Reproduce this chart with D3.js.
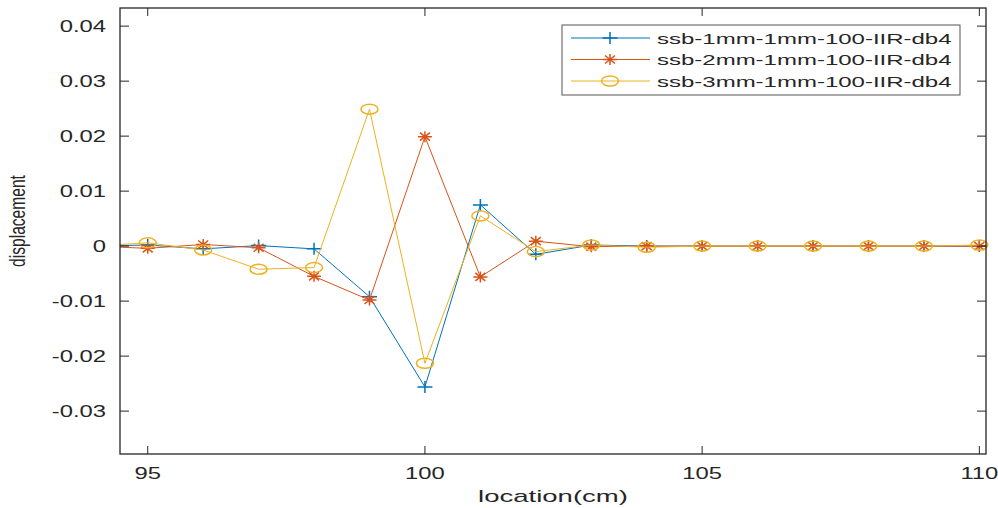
<!DOCTYPE html>
<html>
<head>
<meta charset="utf-8">
<script src="https://cdn.jsdelivr.net/npm/d3@7"></script>
<style>
  body { margin: 0; background: #fff; }
  text { font-family: "Liberation Sans", Arial, sans-serif; fill: #262626; }
</style>
</head>
<body>
<svg id="chart" width="998" height="508"></svg>
<script>
// data
var locations = [94, 95, 96, 97, 98, 99, 100, 101, 102, 103, 104, 105, 106, 107, 108, 109, 110];
var ssb1 = [0, 0.0002, -0.0005, 0.0001, -0.0005, -0.0092, -0.0256, 0.0075, -0.0015, 0.0002, 0, 0, 0, 0, 0, 0, 0];
var ssb2 = [0, -0.0004, 0.0003, -0.0003, -0.0055, -0.0098, 0.0199, -0.0056, 0.0009, -0.0001, 0, 0, 0, 0, 0, 0, 0];
var ssb3 = [0, 0.0006, -0.0007, -0.0042, -0.0039, 0.0249, -0.0213, 0.0055, -0.0010, 0.0002, -0.0002, 0, 0, 0, 0, 0, 0.0002];
var seriesNames = ["ssb-1mm-1mm-100-IIR-db4", "ssb-2mm-1mm-100-IIR-db4", "ssb-3mm-1mm-100-IIR-db4"];
var xTicks = [95, 100, 105, 110];
var yTicks = [-0.03, -0.02, -0.01, 0, 0.01, 0.02, 0.03, 0.04];
var yTickLabels = ["-0.03", "-0.02", "-0.01", "0", "0.01", "0.02", "0.03", "0.04"];

var svg = d3.select("#chart");
var pLeft = 120, pRight = 986, pTop = 8, pBottom = 454;
var sx = 1.4; // the picture is stretched sideways

var x = d3.scaleLinear().domain([94.5, 110.12]).range([pLeft, pRight]);
var y = d3.scaleLinear().domain([-0.0378, 0.0433]).range([pBottom, pTop]);

var colors = ["#0072BD", "#D95319", "#EDB120"];
var markers = ["plus", "star", "circle"];
var allSeries = [ssb1, ssb2, ssb3];

svg.append("clipPath").attr("id", "clip")
  .append("rect").attr("x", pLeft).attr("y", pTop).attr("width", pRight - pLeft).attr("height", pBottom - pTop);

function drawMarker(g, type, color) {
  if (type === "plus") {
    g.append("path").attr("d", "M-7.5,0H7.5M0,-6V6")
      .attr("stroke", color).attr("stroke-width", 1.5).attr("fill", "none");
  } else if (type === "star") {
    g.append("path").attr("d", "M-7,0H7M0,-5.5V5.5M-5,-4L5,4M-5,4L5,-4")
      .attr("stroke", color).attr("stroke-width", 1.5).attr("fill", "none");
  } else {
    g.append("ellipse").attr("rx", 8.5).attr("ry", 5)
      .attr("stroke", color).attr("stroke-width", 1.5).attr("fill", "none");
  }
}

var line = d3.line().x(function (d) { return x(d[0]); }).y(function (d) { return y(d[1]); });

allSeries.forEach(function (vals, i) {
  var pts = locations.map(function (l, j) { return [l, vals[j]]; });
  svg.append("path").datum(pts)
    .attr("clip-path", "url(#clip)")
    .attr("d", line)
    .attr("fill", "none")
    .attr("stroke", colors[i])
    .attr("stroke-width", 1);
  pts.filter(function (p) { return p[0] >= x.domain()[0]; }).forEach(function (p) {
    var g = svg.append("g").attr("transform", "translate(" + x(p[0]) + "," + y(p[1]) + ")");
    drawMarker(g, markers[i], colors[i]);
  });
});

// box and ticks
var axisColor = "#262626";
svg.append("rect").attr("x", pLeft).attr("y", pTop).attr("width", pRight - pLeft).attr("height", pBottom - pTop)
  .attr("fill", "none").attr("stroke", axisColor).attr("stroke-width", 1.3);

xTicks.forEach(function (t) {
  var px = x(t);
  svg.append("line").attr("x1", px).attr("x2", px).attr("y1", pBottom).attr("y2", pBottom - 8).attr("stroke", axisColor);
  svg.append("line").attr("x1", px).attr("x2", px).attr("y1", pTop).attr("y2", pTop + 8).attr("stroke", axisColor);
  svg.append("text").attr("text-anchor", "middle")
    .attr("transform", "translate(" + px + "," + (pBottom + 25) + ") scale(" + sx + ",1)")
    .style("font-size", "17px").text(t);
});

yTicks.forEach(function (t, i) {
  var py = y(t);
  svg.append("line").attr("x1", pLeft).attr("x2", pLeft + 9).attr("y1", py).attr("y2", py).attr("stroke", axisColor);
  svg.append("line").attr("x1", pRight).attr("x2", pRight - 9).attr("y1", py).attr("y2", py).attr("stroke", axisColor);
  svg.append("text").attr("text-anchor", "end")
    .attr("transform", "translate(" + (pLeft - 14) + "," + (py + 6) + ") scale(" + sx + ",1)")
    .style("font-size", "17px").text(yTickLabels[i]);
});

// axis labels
svg.append("text").attr("text-anchor", "middle")
  .attr("transform", "translate(" + ((pLeft + pRight) / 2) + ",502) scale(1.62,1)")
  .style("font-size", "17px").text("location(cm)");
svg.append("text").attr("text-anchor", "middle")
  .attr("transform", "translate(25,221) scale(1.38,1) rotate(-90)")
  .style("font-size", "15.6px").text("displacement");

// legend
var lg = svg.append("g");
lg.append("rect").attr("x", 562).attr("y", 25).attr("width", 398).attr("height", 70)
  .attr("fill", "#fff").attr("stroke", "#555").attr("stroke-width", 1);
var rowY = [38, 59.5, 81];
seriesNames.forEach(function (name, i) {
  lg.append("line").attr("x1", 571).attr("x2", 650).attr("y1", rowY[i]).attr("y2", rowY[i])
    .attr("stroke", colors[i]).attr("stroke-width", 1);
  drawMarker(lg.append("g").attr("transform", "translate(610," + rowY[i] + ")"), markers[i], colors[i]);
  lg.append("text")
    .attr("transform", "translate(657," + (rowY[i] + 5.5) + ") scale(1.6,1)")
    .style("font-size", "15px").text(name);
});
</script>
</body>
</html>
